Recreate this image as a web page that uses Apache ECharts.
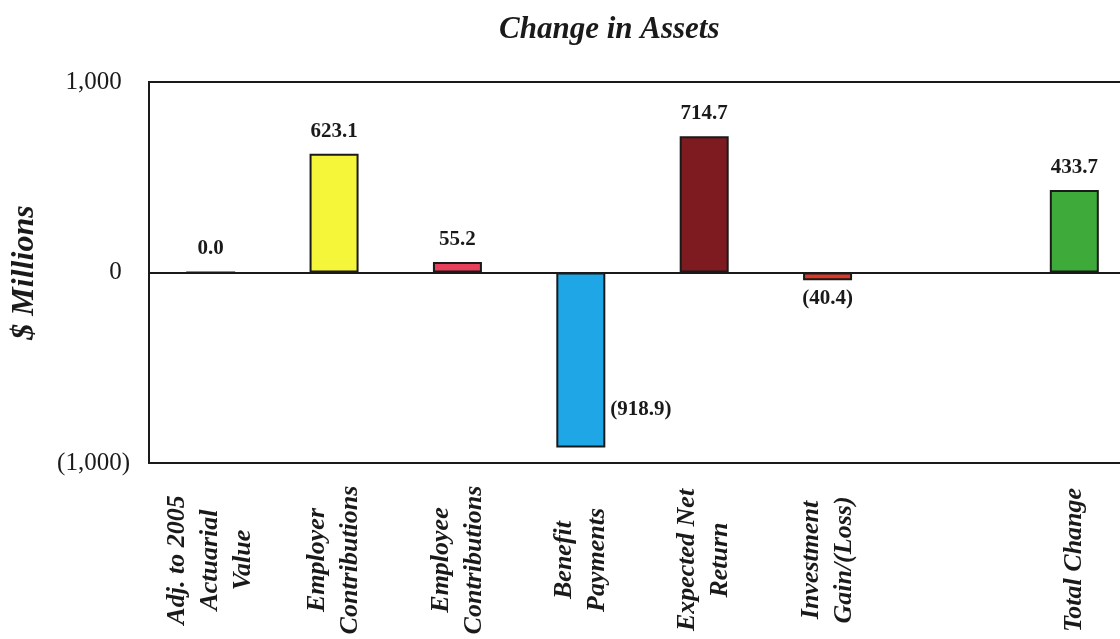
<!DOCTYPE html>
<html>
<head>
<meta charset="utf-8">
<script src="https://cdn.jsdelivr.net/npm/echarts@6/dist/echarts.min.js"></script>
<style>
  html, body { margin: 0; padding: 0; background: #fff; }
  #chart { width: 1120px; height: 639px; }
</style>
</head>
<body>
<div id="chart"></div>
<script>
// Categories of the change in assets (the blank slot separates the total)
const categories = [
  'Adj. to 2005\nActuarial\nValue',
  'Employer\nContributions',
  'Employee\nContributions',
  'Benefit\nPayments',
  'Expected Net\nReturn',
  'Investment\nGain/(Loss)',
  '',
  'Total Change'
];
// $ millions
const values = [0.0, 623.1, 55.2, -918.9, 714.7, -40.4, null, 433.7];
const yTicks = [-1000, 0, 1000];

const barColors = ['#f5f53a', '#f5f53a', '#e6405a', '#1ea6e6', '#7d1b20', '#d83a2a', '#ffffff', '#3daa3a'];

const serif = '"Liberation Serif", "Times New Roman", serif';

function fmtAcct(v) {
  const s = Math.abs(v).toFixed(1);
  return v < 0 ? '(' + s + ')' : s;
}
function fmtTick(v) {
  const s = Math.abs(v).toLocaleString('en-US');
  return v < 0 ? '(' + s + ')' : s + '{h|)}';
}

const data = values.map((v, i) => {
  if (v === null) return null;
  const item = {
    value: v,
    itemStyle: { color: barColors[i] },
    label: {}
  };
  if (v < 0) item.label = { position: 'bottom', distance: 8 };
  if (i === 3) item.label = { position: 'right', distance: 5, offset: [0, 50] };
  return item;
});

const chart = echarts.init(document.getElementById('chart'), null, { renderer: 'canvas' });
chart.setOption({
  backgroundColor: '#ffffff',
  animation: false,
  title: {
    text: 'Change in Assets',
    left: 494,
    top: 9,
    textStyle: {
      fontFamily: serif,
      fontSize: 31,
      fontWeight: 'bold',
      fontStyle: 'italic',
      color: '#1a1a1a'
    }
  },
  grid: {
    left: 149,
    width: 987,
    top: 82,
    bottom: 176,
    outerBoundsMode: 'none',
    show: true,
    borderColor: '#1a1a1a',
    borderWidth: 2,
    containLabel: false
  },
  xAxis: {
    type: 'category',
    data: categories,
    axisLine: { show: false, onZero: false },
    axisTick: { show: false },
    splitLine: { show: false },
    axisLabel: {
      interval: 0,
      rotate: 90,
      align: 'center',
      verticalAlign: 'middle',
      margin: 97,
      fontFamily: serif,
      fontSize: 26,
      fontWeight: 'bold',
      fontStyle: 'italic',
      lineHeight: 33,
      color: '#1a1a1a'
    }
  },
  yAxis: {
    type: 'value',
    min: yTicks[0],
    max: yTicks[yTicks.length - 1],
    interval: 1000,
    name: '$ Millions',
    nameLocation: 'middle',
    nameGap: 108,
    nameRotate: 90,
    nameTextStyle: {
      fontFamily: serif,
      fontSize: 32,
      fontWeight: 'bold',
      fontStyle: 'italic',
      color: '#1a1a1a'
    },
    axisLine: { show: false },
    axisTick: { show: false },
    splitLine: { show: false },
    axisLabel: {
      margin: 19,
      fontFamily: serif,
      fontSize: 25,
      color: '#1a1a1a',
      formatter: fmtTick,
      rich: {
        h: { fontFamily: serif, fontSize: 25, color: 'rgba(0,0,0,0)' }
      }
    }
  },
  series: [{
    type: 'bar',
    data: data,
    barWidth: 49,
    itemStyle: { borderColor: '#1a1a1a', borderWidth: 2 },
    label: {
      show: true,
      position: 'top',
      distance: 12,
      fontFamily: serif,
      fontSize: 21,
      fontWeight: 'bold',
      color: '#1a1a1a',
      formatter: p => fmtAcct(p.value)
    },
    markLine: {
      silent: true,
      symbol: ['none', 'none'],
      label: { show: false },
      lineStyle: { color: '#1a1a1a', width: 2, type: 'solid' },
      data: [{ yAxis: 0 }]
    }
  }]
});
</script>
</body>
</html>
